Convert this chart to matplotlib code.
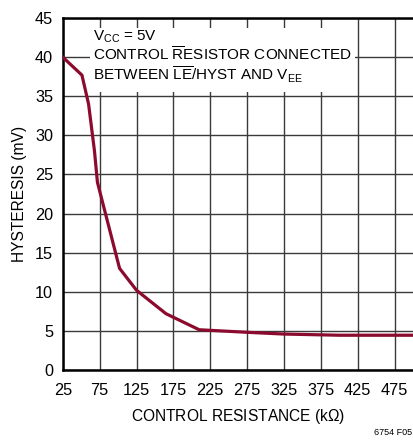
import matplotlib.pyplot as plt
from matplotlib.patches import Rectangle

plt.rcParams['font.family'] = ['Liberation Sans', 'DejaVu Sans']
plt.rcParams['mathtext.fontset'] = 'custom'
plt.rcParams['mathtext.rm'] = 'Liberation Sans'
plt.rcParams['mathtext.it'] = 'Liberation Sans'

# resistance (kOhm) et hysteresis (mV)
resistance = [25, 51, 60, 68, 72, 102, 125, 165, 210, 250, 280, 325, 400, 500]
hysteresis = [40, 37.7, 34, 28, 24, 13, 10.2, 7.2, 5.15, 4.95, 4.8, 4.6, 4.45, 4.45]

xticks = [25, 75, 125, 175, 225, 275, 325, 375, 425, 475]
yticks = [0, 5, 10, 15, 20, 25, 30, 35, 40, 45]

fig = plt.figure(figsize=(4.13, 4.40), dpi=100)
ax = fig.add_axes([0.152, 0.159, 0.848, 0.800])

ax.plot(resistance, hysteresis, color='#8C0A2E', lw=2.3, zorder=5, solid_joinstyle='miter')

ax.set_xlim(25, 500)
ax.set_ylim(0, 45)
ax.set_xticks(xticks)
ax.set_yticks(yticks)
ax.grid(True, color='#3a3a3a', lw=1.0)
ax.tick_params(length=0, labelsize=11.7)
ax.tick_params(axis='x', pad=9)
ax.tick_params(axis='y', pad=7)
for s in ['left', 'bottom', 'top']:
    ax.spines[s].set_linewidth(1.8)
ax.spines['right'].set_visible(False)

ax.set_xlabel('CONTROL RESISTANCE (k$\\Omega$)', fontsize=11.2, labelpad=7)
ax.set_ylabel('HYSTERESIS (mV)', fontsize=11.2, labelpad=6)

# boite blanche par dessus la grille
ax.add_patch(Rectangle((0.078, 0.79), 0.756, 0.182, transform=ax.transAxes,
                       facecolor='white', edgecolor='none', zorder=3))
lignes = ['V$_{\\mathrm{CC}}$ = 5V',
          'CONTROL $\\overline{\\mathrm{R}}$ESISTOR CONNECTED',
          'BETWEEN $\\overline{\\mathrm{LE}}$/HYST AND V$_{\\mathrm{EE}}$']
for ligne, yy in zip(lignes, [0.9355, 0.8787, 0.8219]):
    ax.text(0.0865, yy, ligne, transform=ax.transAxes, va='baseline', ha='left',
            fontsize=11, zorder=4)

fig.text(0.998, 0.007, '6754 F05', ha='right', va='bottom', fontsize=6.5)

fig.savefig('out.png', dpi=100)
